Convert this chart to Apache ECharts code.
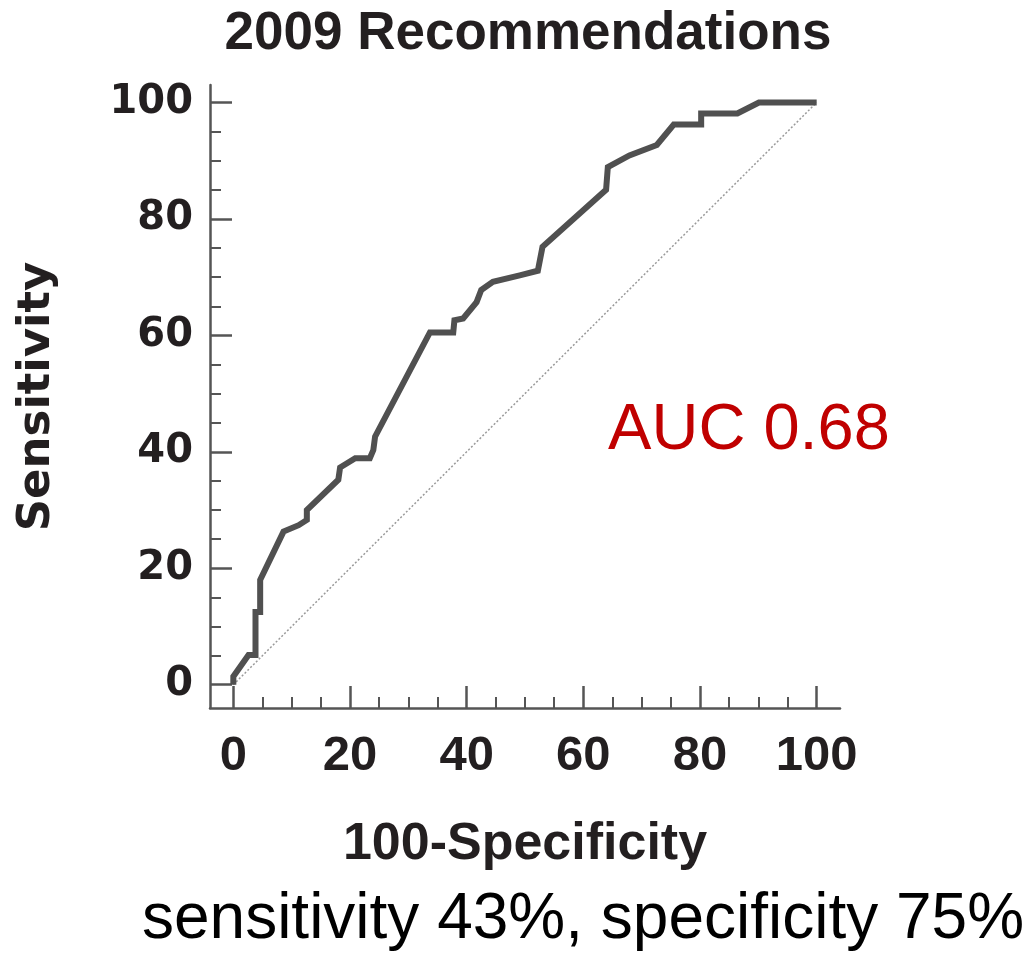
<!DOCTYPE html>
<html>
<head>
<meta charset="utf-8">
<script src="https://cdn.jsdelivr.net/npm/echarts@6/dist/echarts.min.js"></script>
<style>html,body{margin:0;padding:0;background:#fff;}#c{width:1031px;height:953px;}</style>
</head>
<body>
<div id="c"></div>
<script>
// ROC curve: 100-Specificity (x) vs Sensitivity (y)
const fpr  = [0, 0, 2.6, 3.8, 3.8, 4.6, 4.6, 8.6, 11.2, 12.6, 12.6, 18.0, 18.3, 20.9, 23.4, 24.0, 24.3, 33.7, 37.7, 37.9, 39.4, 41.7, 42.5, 44.5, 49.1, 52.2, 53.0, 63.9, 64.2, 67.9, 72.6, 75.5, 80.2, 80.2, 86.4, 90.1, 100];
const sens = [0, 1.4, 5.1, 5.1, 12.5, 12.5, 18.0, 26.3, 27.4, 28.3, 30.0, 35.2, 37.3, 38.9, 38.9, 40.3, 42.6, 60.5, 60.5, 62.6, 62.9, 65.7, 67.8, 69.2, 70.3, 71.1, 75.2, 85.0, 88.9, 90.9, 92.7, 96.2, 96.2, 98.1, 98.1, 100, 100];
const diagX = [0, 100];
const diagY = [0, 100];
const majorTicks = [0, 20, 40, 60, 80, 100];
const minorTicks = [5, 10, 15, 25, 30, 35, 45, 50, 55, 65, 70, 75, 85, 90, 95];
const titleText = '2009 Recommendations';
const xName = '100-Specificity';
const yName = 'Sensitivity';
const aucText = 'AUC 0.68';
const noteText = 'sensitivity 43%, specificity 75%';

const axisColor = '#555555';
const textColor = '#231f20';

const rocData = fpr.map((x, i) => [x, sens[i]]);
const diagData = diagX.map((x, i) => [x, diagY[i]]);

const chart = echarts.init(document.getElementById('c'));
const baseX = { type: 'value', min: -4, max: 104, splitLine: { show: false } };
const baseY = { type: 'value', min: -4, max: 103, splitLine: { show: false } };

chart.setOption({
  animation: false,
  backgroundColor: '#fff',
  grid: { left: 210, right: 191, top: 85, bottom: 245, containLabel: false },
  xAxis: [
    Object.assign({}, baseX, {
      position: 'bottom',
      name: xName, nameLocation: 'middle', nameGap: 111,
      nameTextStyle: { fontFamily: 'Liberation Sans', fontWeight: 'bold', fontSize: 52, color: textColor },
      axisLine: { show: true, onZero: false, lineStyle: { color: axisColor, width: 2.5 } },
      axisTick: { show: true, inside: true, length: 22, customValues: majorTicks, lineStyle: { color: axisColor, width: 2.5 } },
      axisLabel: { show: true, customValues: majorTicks, margin: 24, fontFamily: 'Liberation Sans', fontWeight: 'bold', fontSize: 49, color: textColor }
    }),
    Object.assign({}, baseX, {
      position: 'bottom',
      axisLine: { show: false, onZero: false },
      axisTick: { show: true, inside: true, length: 11, customValues: minorTicks, lineStyle: { color: axisColor, width: 2 } },
      axisLabel: { show: false }
    })
  ],
  yAxis: [
    Object.assign({}, baseY, {
      position: 'left',
      name: yName, nameLocation: 'middle', nameGap: 150, nameRotate: 90,
      nameTextStyle: { fontFamily: 'DejaVu Sans', fontWeight: 'bold', fontSize: 45, color: textColor },
      axisLine: { show: true, onZero: false, lineStyle: { color: axisColor, width: 2.5 } },
      axisTick: { show: true, inside: true, length: 22, customValues: majorTicks, lineStyle: { color: axisColor, width: 2.5 } },
      axisLabel: { show: true, customValues: majorTicks, margin: 17, fontFamily: 'DejaVu Sans', fontWeight: 'bold', fontSize: 40, color: textColor }
    }),
    Object.assign({}, baseY, {
      position: 'left',
      axisLine: { show: false, onZero: false },
      axisTick: { show: true, inside: true, length: 11, customValues: minorTicks, lineStyle: { color: axisColor, width: 2 } },
      axisLabel: { show: false }
    })
  ],
  series: [
    {
      type: 'line', xAxisIndex: 0, yAxisIndex: 0, data: diagData, symbol: 'none',
      lineStyle: { color: '#9a9a9a', width: 1.5, type: [2, 2] }, z: 1
    },
    {
      type: 'line', xAxisIndex: 0, yAxisIndex: 0, data: rocData, symbol: 'none',
      lineStyle: { color: '#505050', width: 6, join: 'miter' }, z: 2
    }
  ],
  graphic: [
    { type: 'text', x: 528, y: 34, style: { text: titleText, textAlign: 'center', textVerticalAlign: 'middle', fontFamily: 'Liberation Sans', fontWeight: 'bold', fontSize: 53, fill: textColor } },
    { type: 'text', x: 749, y: 431, style: { text: aucText, textAlign: 'center', textVerticalAlign: 'middle', fontFamily: 'Liberation Sans', fontSize: 65, fill: '#c00000' } },
    { type: 'text', x: 583, y: 920, style: { text: noteText, textAlign: 'center', textVerticalAlign: 'middle', fontFamily: 'Liberation Sans', fontSize: 64, fill: '#000000' } }
  ]
});
</script>
</body>
</html>
